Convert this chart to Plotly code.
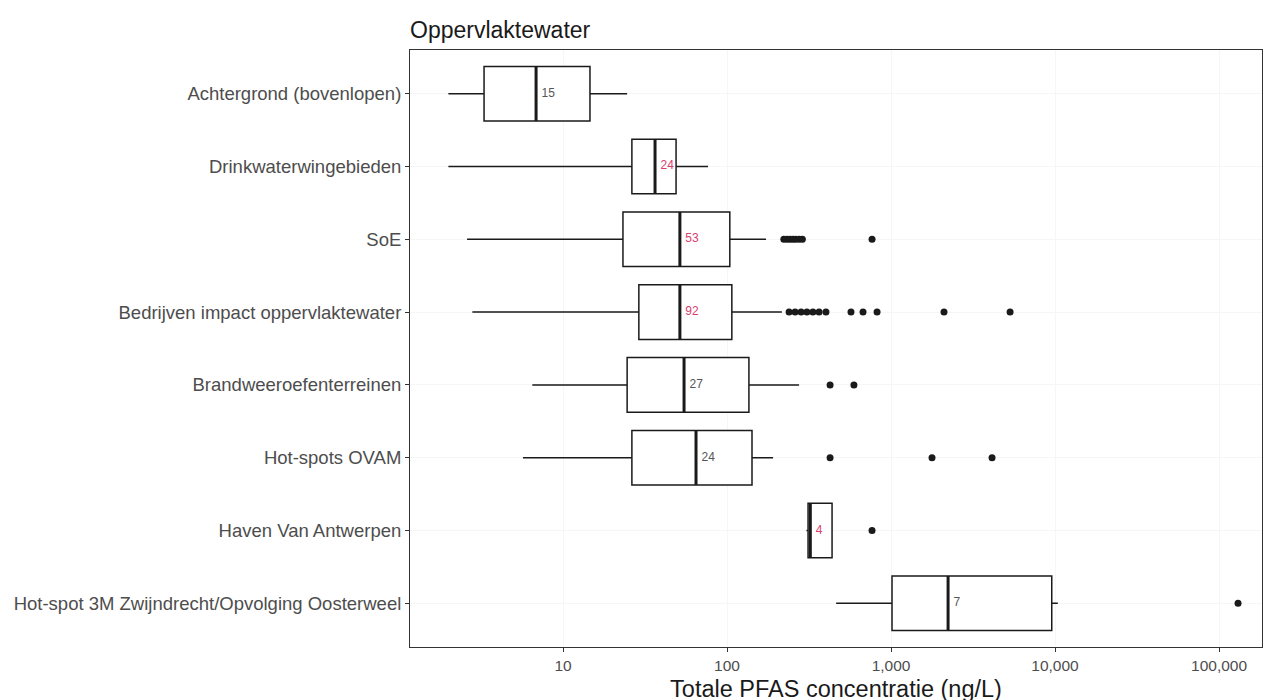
import plotly.graph_objects as go

categories = [
    "Achtergrond (bovenlopen)",
    "Drinkwaterwingebieden",
    "SoE",
    "Bedrijven impact oppervlaktewater",
    "Brandweeroefenterreinen",
    "Hot-spots OVAM",
    "Haven Van Antwerpen",
    "Hot-spot 3M Zwijndrecht/Opvolging Oosterweel",
]
lower_whisker = [2.0, 2.0, 2.6, 2.8, 6.5, 5.7, 305, 463]
q1 = [3.3, 26.3, 23.2, 29.0, 24.6, 26.3, 312, 1014]
median = [6.85, 36.4, 51.6, 51.6, 54.7, 64.7, 322, 2228]
q3 = [14.6, 48.9, 104, 107, 136, 142, 437, 9550]
upper_whisker = [24.6, 76.6, 173, 216, 275, 191, 437, 10400]
counts = ["15", "24", "53", "92", "27", "24", "4", "7"]
count_colors = ["#555555", "#d9406e", "#d9406e", "#d9406e", "#555555", "#555555", "#d9406e", "#555555"]
outliers = [
    [],
    [],
    [222, 232, 242, 252, 262, 275, 288, 766],
    [239, 260, 283, 307, 334, 364, 401, 570, 675, 822, 2104, 5320],
    [425, 594],
    [425, 1778, 4130],
    [766],
    [130600],
]
x_tick_vals = [10, 100, 1000, 10000, 100000]
x_tick_text = ["10", "100", "1,000", "10,000", "100,000"]

FONT = "Liberation Sans, Arial, sans-serif"

fig = go.Figure()

fig.add_trace(go.Box(
    y=categories,
    q1=q1, median=median, q3=q3,
    lowerfence=lower_whisker, upperfence=upper_whisker,
    orientation="h",
    boxpoints=False,
    whiskerwidth=0,
    width=0.75,
    fillcolor="white",
    line=dict(color="#1a1a1a", width=1.5),
    showlegend=False,
    hoverinfo="skip",
))

# thicker median lines
fig.add_trace(go.Scatter(
    x=median, y=categories, mode="markers",
    marker=dict(symbol="line-ns-open", size=39, color="#1a1a1a",
                line=dict(color="#1a1a1a", width=3)),
    showlegend=False, hoverinfo="skip",
))

# outliers
ox, oy = [], []
for cat, vals in zip(categories, outliers):
    for v in vals:
        ox.append(v)
        oy.append(cat)
fig.add_trace(go.Scatter(
    x=ox, y=oy, mode="markers",
    marker=dict(color="#1a1a1a", size=7),
    showlegend=False, hoverinfo="skip",
))

# counts
fig.add_trace(go.Scatter(
    x=[m * 1.08 for m in median], y=categories, mode="text",
    text=counts, textposition="middle right",
    textfont=dict(size=12, color=count_colors, family=FONT),
    showlegend=False, hoverinfo="skip",
))

fig.update_layout(
    width=1276, height=700,
    margin=dict(l=402, r=22, t=42, b=61, autoexpand=False),
    paper_bgcolor="white", plot_bgcolor="white",
    font=dict(family=FONT, color="#4d4d4d"),
    title=dict(text="Oppervlaktewater", x=402 / 1276, xanchor="left",
               y=1 - 22 / 700, yanchor="middle",
               font=dict(size=23, color="#1a1a1a")),
)
fig.update_xaxes(
    type="log", range=[0.067, 5.262], automargin=False,
    tickvals=x_tick_vals, ticktext=x_tick_text,
    tickfont=dict(size=15.5, color="#4d4d4d"),
    ticks="outside", ticklen=4, tickcolor="#333333",
    showline=True, linecolor="#333333", linewidth=1, mirror=True,
    showgrid=True, gridcolor="#f6f6f6", zeroline=False,
    title=dict(text="Totale PFAS concentratie (ng/L)", font=dict(size=23.5, color="#1a1a1a"), standoff=7),
)
fig.update_yaxes(
    type="category", categoryorder="array", categoryarray=categories,
    range=[7.6, -0.6], automargin=False,
    tickfont=dict(size=18.5, color="#4d4d4d"),
    ticks="outside", ticklen=4, tickcolor="#333333",
    showline=True, linecolor="#333333", linewidth=1, mirror=True,
    showgrid=True, gridcolor="#f6f6f6", zeroline=False,
)

fig.write_html("out.html")
